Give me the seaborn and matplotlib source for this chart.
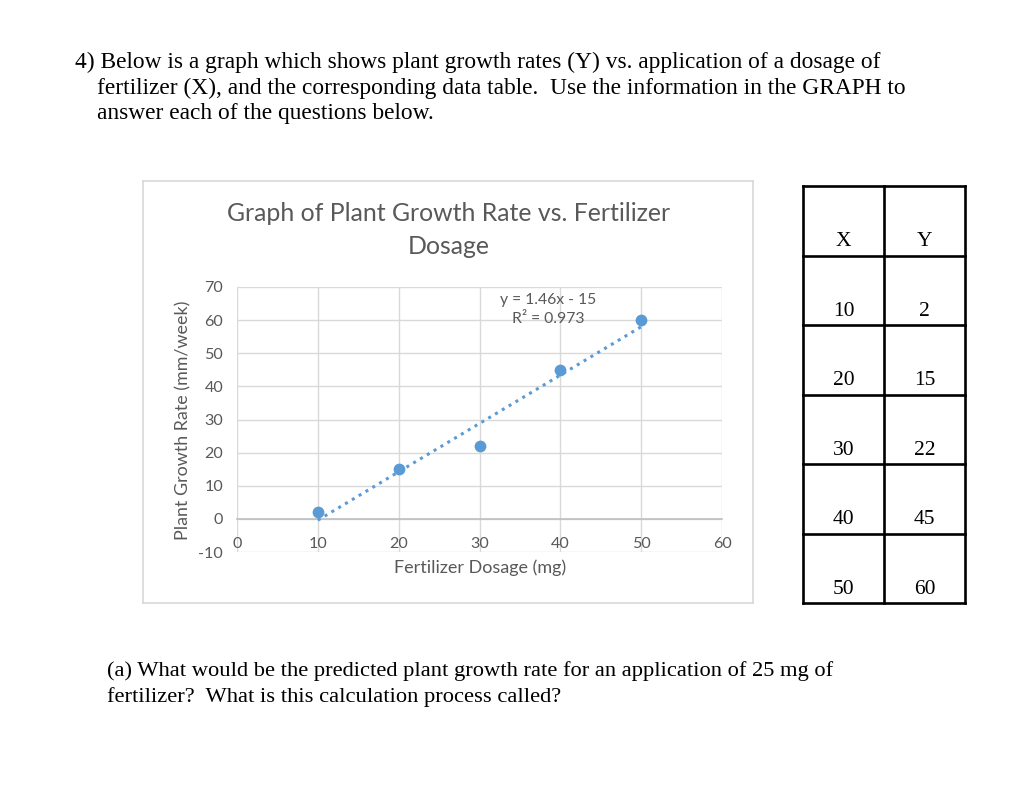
import numpy as np
import pandas as pd
import seaborn as sns
import matplotlib.pyplot as plt

# Данные таблицы и графика
dosage = [10, 20, 30, 40, 50]
growth = [2, 15, 22, 45, 60]
col_names = ['X', 'Y']
x_ticks = [0, 10, 20, 30, 40, 50, 60]
y_ticks = [-10, 0, 10, 20, 30, 40, 50, 60, 70]

question_lines = [
    '4) Below is a graph which shows plant growth rates (Y) vs. application of a dosage of',
    'fertilizer (X), and the corresponding data table.  Use the information in the GRAPH to',
    'answer each of the questions below.',
]
part_a_lines = [
    '(a) What would be the predicted plant growth rate for an application of 25 mg of',
    'fertilizer?  What is this calculation process called?',
]

df = pd.DataFrame({'Dosage': dosage, 'Growth': growth})

# Уравнение тренда (как в Excel)
slope, intercept = np.polyfit(df['Dosage'], df['Growth'], 1)
r2 = np.corrcoef(df['Dosage'], df['Growth'])[0, 1] ** 2

sns.set_theme(style='white')
plt.rcParams['font.family'] = ['Lato', 'DejaVu Sans']
plt.rcParams['axes.unicode_minus'] = False

W, H = 1024, 793
fig = plt.figure(figsize=(W / 100, H / 100), dpi=100)
fig.patch.set_facecolor('white')


def px(x, y):
    return x / W, 1 - y / H


serif = ['Liberation Serif', 'DejaVu Serif']
grey = '#595959'

# Текст задания
for i, line in enumerate(question_lines):
    fig.text(*px(75 if i == 0 else 97, 62 + 26 * i), line, family=serif,
             fontsize=16.8, va='center', ha='left', color='black')
for i, line in enumerate(part_a_lines):
    fig.text(*px(107, 671 + 26 * i), line, family=serif,
             fontsize=16.2, va='center', ha='left', color='black')

# Рамка диаграммы
frame = fig.add_axes([143 / W, 1 - 603 / H, (753 - 143) / W, (603 - 181) / H])
frame.set_xticks([])
frame.set_yticks([])
for s in frame.spines.values():
    s.set_color('#D9D9D9')
    s.set_linewidth(1.2)
frame.set_zorder(0)

# График
ax = fig.add_axes([237 / W, 1 - 552 / H, (722 - 237) / W, (552 - 287) / H])
ax.set_zorder(1)
ax.patch.set_alpha(0)
sns.regplot(data=df, x='Dosage', y='Growth', ax=ax, ci=None, truncate=True,
            scatter_kws={'s': 72, 'color': '#5B9BD5', 'alpha': 1, 'zorder': 3, 'linewidths': 0},
            line_kws={'color': '#5B9BD5', 'linestyle': (0, (1, 1.6)), 'linewidth': 2.2, 'zorder': 4})
ax.set_xlim(0, 60)
ax.set_ylim(-10, 70)
ax.set_xticks(x_ticks)
ax.set_yticks(y_ticks)
ax.grid(True, color='#D9D9D9', linewidth=1)
ax.set_axisbelow(True)
for s in ['top', 'right', 'left']:
    ax.spines[s].set_visible(False)
ax.spines['bottom'].set_position(('data', 0))
ax.spines['bottom'].set_color('#BFBFBF')
ax.spines['bottom'].set_linewidth(1.2)
ax.tick_params(axis='x', length=0, pad=13, labelsize=11.6, labelcolor=grey)
ax.tick_params(axis='y', length=0, pad=10, labelsize=11.6, labelcolor=grey)
ax.set_xlabel('')
ax.set_ylabel('')

fig.text(*px(480, 568), 'Fertilizer Dosage (mg)', ha='center', va='center',
         fontsize=13, color=grey)
fig.text(*px(183, 420), 'Plant Growth Rate (mm/week)', ha='center', va='center',
         rotation=90, fontsize=12.9, color=grey)
fig.text(*px(449, 230), 'Graph of Plant Growth Rate vs. Fertilizer\nDosage',
         ha='center', va='center', fontsize=17.9, color=grey, linespacing=1.55)
ax.text(38.5, 63.3, f'y = {slope:.2f}x - {abs(intercept):.0f}\nR² = {r2:.3f}',
        ha='center', va='center', fontsize=11.3, color=grey, linespacing=1.45)

# Таблица данных
tab = fig.add_axes([803 / W, 1 - 603 / H, (965 - 803) / W, (603 - 186) / H])
rows = [col_names] + [[str(a), str(b)] for a, b in zip(dosage, growth)]
tab.set_xlim(0, 2)
tab.set_ylim(len(rows), 0)
tab.axis('off')
for r in range(len(rows) + 1):
    tab.plot([0, 2], [r, r], color='black', linewidth=1.9, solid_capstyle='projecting', clip_on=False)
for c in range(3):
    tab.plot([c, c], [0, len(rows)], color='black', linewidth=1.9, solid_capstyle='projecting', clip_on=False)
for r, row in enumerate(rows):
    for c, val in enumerate(row):
        tab.text(c + 0.5, r + 0.8, val, ha='center', va='center',
                 family=serif, fontsize=15.5, color='black')

fig.savefig('out.png', dpi=100)
